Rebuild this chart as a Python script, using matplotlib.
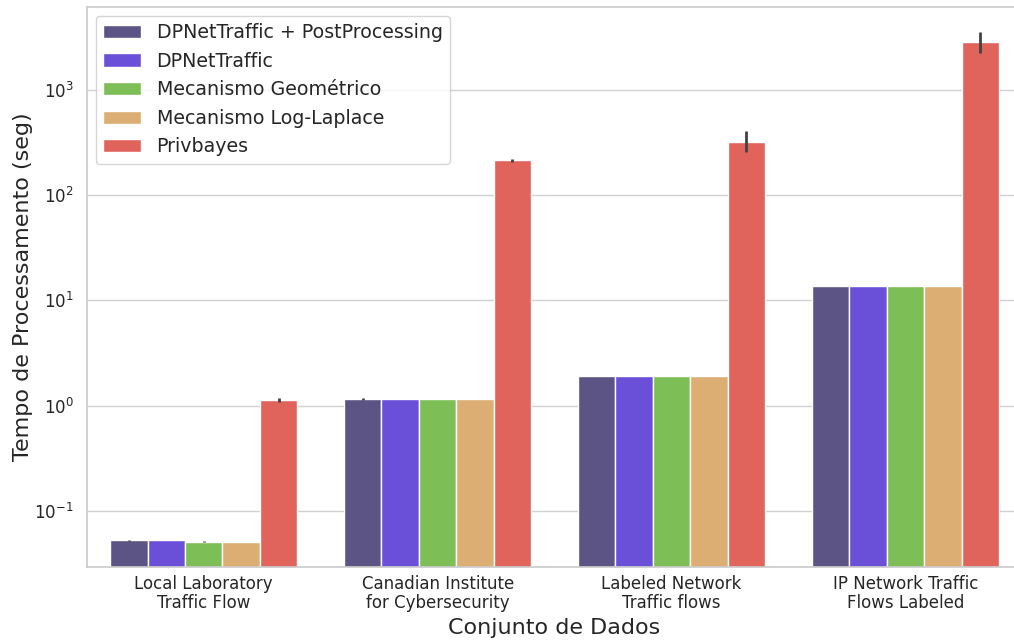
import matplotlib
matplotlib.use("Agg")
import matplotlib.pyplot as plt
import numpy as np
import seaborn as sns

# Datasets (x categories)
datasets = [
    "Local Laboratory\nTraffic Flow",
    "Canadian Institute\nfor Cybersecurity",
    "Labeled Network\nTraffic flows",
    "IP Network Traffic\nFlows Labeled",
]

# Methods (hue)
methods = [
    "DPNetTraffic + PostProcessing",
    "DPNetTraffic",
    "Mecanismo Geométrico",
    "Mecanismo Log-Laplace",
    "Privbayes",
]
colors = ["#5c5484", "#6a50d8", "#7ebe56", "#dcae74", "#e0645c"]

# Mean processing time (seconds)
t_dpnet_pp = [0.0523, 1.16, 1.92, 13.7]
t_dpnet = [0.0525, 1.16, 1.92, 13.7]
t_geom = [0.0508, 1.16, 1.92, 13.7]
t_loglap = [0.0508, 1.16, 1.92, 13.7]
t_privbayes = [1.12, 214, 321, 2857]

# Confidence intervals (low, high); None where the interval is negligible
ci_dpnet_pp = [(0.0515, 0.0532), (1.14, 1.18), None, None]
ci_dpnet = [None, None, None, None]
ci_geom = [(0.0500, 0.0516), None, None, None]
ci_loglap = [None, None, None, None]
ci_privbayes = [(1.07, 1.17), (208, 221), (258, 407), (2265, 3580)]

values = [t_dpnet_pp, t_dpnet, t_geom, t_loglap, t_privbayes]
cis = [ci_dpnet_pp, ci_dpnet, ci_geom, ci_loglap, ci_privbayes]

sns.set_theme(style="whitegrid")
plt.rcParams["font.family"] = ["DejaVu Sans"]

fig = plt.figure(figsize=(10.14, 6.4), dpi=100)
W, H = 1014, 640
left, right, top, bottom = 86.7, 1022.5, 7, 566.7
ax = fig.add_axes([left / W, (H - bottom) / H, (right - left) / W, (bottom - top) / H])

n = len(methods)
group_w = 0.8
bar_w = group_w / n
x = np.arange(len(datasets))

for i, (name, vals, ci, col) in enumerate(zip(methods, values, cis, colors)):
    pos = x - group_w / 2 + bar_w * (i + 0.5)
    ax.bar(pos, vals, width=bar_w, color=col, edgecolor="white", linewidth=1,
           label=name, zorder=2)
    for p, c in zip(pos, ci):
        if c is not None:
            ax.plot([p, p], [c[0], c[1]], color="#424242", linewidth=2.0,
                    solid_capstyle="butt", zorder=3)

ax.set_yscale("log")
ax.set_ylim(0.0294, 6150)
ax.set_xlim(-0.5, len(datasets) - 0.5)
ax.set_xticks(x)
ax.set_xticklabels(datasets, fontsize=12, color="#262626", linespacing=1.1)
ax.tick_params(axis="x", pad=0)
ax.tick_params(axis="y", labelsize=12, labelcolor="#262626")
ax.yaxis.set_minor_locator(matplotlib.ticker.NullLocator())
ax.grid(axis="x", visible=False)
ax.grid(axis="y", color="#d0d0d0", linewidth=1.0)
ax.set_axisbelow(True)

ax.set_xlabel("Conjunto de Dados", fontsize=16, color="#262626", labelpad=4)
ax.set_ylabel("Tempo de Processamento (seg)", fontsize=16, color="#262626",
              labelpad=1)

leg = ax.legend(loc="upper left", fontsize=13.7, frameon=True,
                bbox_to_anchor=(0.0096, 0.9845), borderaxespad=0.0)
for t in leg.get_texts():
    t.set_color("#262626")

fig.savefig("out.png", dpi=100)
